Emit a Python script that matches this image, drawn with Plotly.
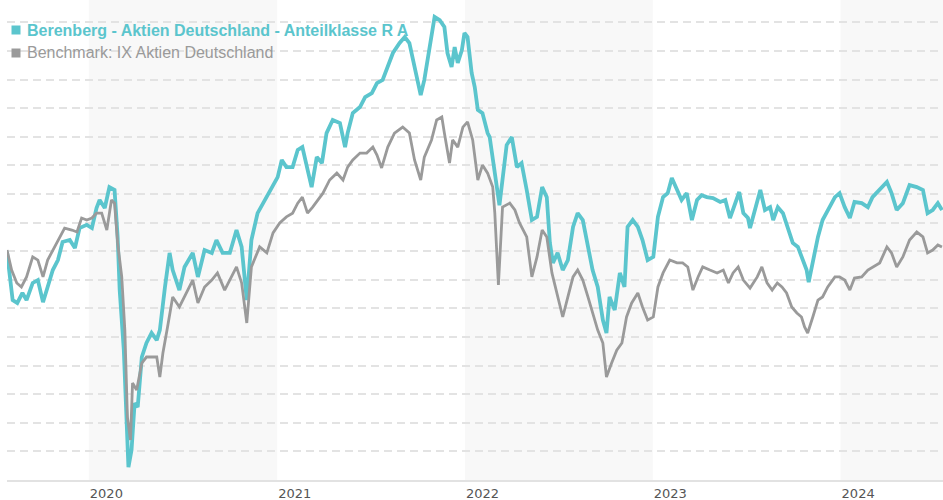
import plotly.graph_objects as go

fund_name = "Berenberg - Aktien Deutschland - Anteilklasse R A"
bench_name = "Benchmark: IX Aktien Deutschland"

fund_dates = [
    "2019-07-26", "2019-08-01", "2019-08-06", "2019-08-15", "2019-08-25", "2019-09-02", "2019-09-14",
    "2019-09-24", "2019-10-04", "2019-10-13", "2019-10-23", "2019-11-02", "2019-11-11", "2019-11-25",
    "2019-12-05", "2019-12-14", "2019-12-28", "2020-01-07", "2020-01-16", "2020-01-22", "2020-02-01",
    "2020-02-10", "2020-02-20", "2020-02-26", "2020-03-01", "2020-03-09", "2020-03-14", "2020-03-18",
    "2020-03-24", "2020-03-30", "2020-04-05", "2020-04-13", "2020-04-22", "2020-05-02", "2020-05-12",
    "2020-05-18", "2020-05-28", "2020-06-06", "2020-06-12", "2020-06-25", "2020-07-05", "2020-07-21",
    "2020-07-31", "2020-08-13", "2020-08-27", "2020-09-05", "2020-09-17", "2020-10-01", "2020-10-14",
    "2020-10-24", "2020-11-03", "2020-11-12", "2020-11-24", "2020-12-08", "2020-12-22", "2021-01-02",
    "2021-01-10", "2021-01-19", "2021-01-31", "2021-02-10", "2021-02-19", "2021-03-01", "2021-03-09",
    "2021-03-19", "2021-03-29", "2021-04-07", "2021-04-19", "2021-05-03", "2021-05-13", "2021-05-18",
    "2021-05-28", "2021-06-11", "2021-06-21", "2021-07-04", "2021-07-14", "2021-07-25", "2021-08-04",
    "2021-08-14", "2021-08-27", "2021-09-06", "2021-09-15", "2021-09-21", "2021-09-29", "2021-10-07",
    "2021-10-14", "2021-10-24", "2021-11-03", "2021-11-13", "2021-11-22", "2021-11-28", "2021-12-06",
    "2021-12-12", "2021-12-18", "2021-12-26", "2021-12-31", "2022-01-06", "2022-01-14", "2022-01-20",
    "2022-01-26", "2022-02-04", "2022-02-14", "2022-02-18", "2022-02-24", "2022-03-04", "2022-03-09",
    "2022-03-23", "2022-04-02", "2022-04-12", "2022-04-21", "2022-05-01", "2022-05-11", "2022-05-21",
    "2022-05-31", "2022-06-09", "2022-06-15", "2022-06-21", "2022-06-30", "2022-07-10", "2022-07-20",
    "2022-07-30", "2022-08-08", "2022-08-18", "2022-08-28", "2022-09-06", "2022-09-16", "2022-09-26",
    "2022-10-03", "2022-10-09", "2022-10-19", "2022-10-29", "2022-11-07", "2022-11-13", "2022-11-23",
    "2022-12-03", "2022-12-12", "2022-12-22", "2023-01-02", "2023-01-11", "2023-01-21", "2023-01-30",
    "2023-02-07", "2023-02-17", "2023-02-26", "2023-03-08", "2023-03-18", "2023-03-28", "2023-04-06",
    "2023-04-16", "2023-04-28", "2023-05-12", "2023-05-22", "2023-05-31", "2023-06-10", "2023-06-18",
    "2023-06-26", "2023-07-05", "2023-07-09", "2023-07-19", "2023-07-29", "2023-08-07", "2023-08-17",
    "2023-08-23", "2023-09-01", "2023-09-11", "2023-09-20", "2023-09-30", "2023-10-10", "2023-10-19",
    "2023-10-27", "2023-10-31", "2023-11-08", "2023-11-18", "2023-11-27", "2023-12-07", "2023-12-21",
    "2023-12-30", "2024-01-09", "2024-01-19", "2024-01-28", "2024-02-11", "2024-02-23", "2024-03-03",
    "2024-03-17", "2024-03-31", "2024-04-09", "2024-04-19", "2024-05-01", "2024-05-14", "2024-05-28",
    "2024-06-09", "2024-06-18", "2024-06-28", "2024-07-08", "2024-07-16",
]
fund_values = [
    99.7, 91.7, 82.9, 81.9, 85.4, 82.9, 88.9,
    89.9, 82.2, 87.5, 93.4, 96.9, 103.2, 103.9,
    101.1, 108.1, 109.2, 108.1, 115.1, 117.9, 115.1,
    122.4, 121.4, 105.0, 86.4, 65.4, 37.5, 24.5,
    30.5, 46.9, 45.5, 63.0, 67.9, 71.4, 68.9,
    72.4, 87.5, 99.4, 93.4, 86.4, 94.5, 99.4,
    91.0, 100.4, 99.4, 103.9, 99.4, 99.4, 107.4,
    101.5, 82.9, 103.9, 113.3, 117.9, 122.4, 125.9,
    131.9, 129.4, 129.4, 135.4, 136.4, 128.4, 122.4,
    132.9, 130.8, 141.3, 145.9, 144.8, 136.4, 141.3,
    148.3, 150.4, 153.9, 155.3, 158.8, 159.9, 164.4,
    169.3, 172.8, 174.9, 172.8, 167.9, 162.3, 154.6,
    159.9, 170.3, 181.9, 180.8, 178.4, 169.3, 164.4,
    171.4, 165.8, 170.3, 176.3, 174.9, 162.3, 157.4,
    149.4, 148.3, 141.3, 139.9, 132.9, 121.4, 116.1,
    137.1, 139.9, 129.4, 130.8, 121.4, 110.9, 112.0,
    122.4, 118.9, 102.9, 95.9, 99.4, 93.4, 96.9,
    108.5, 113.3, 110.9, 101.5, 93.4, 87.5, 75.9,
    71.4, 84.0, 79.4, 92.4, 87.5, 108.5, 110.9,
    108.5, 103.9, 96.9, 98.0, 112.0, 118.9, 120.3,
    125.6, 121.4, 117.9, 120.3, 110.9, 117.9, 119.6,
    118.9, 118.6, 117.2, 117.9, 111.6, 116.8, 120.7,
    113.3, 111.6, 108.1, 115.4, 121.4, 114.4, 115.4,
    110.9, 115.4, 113.3, 108.5, 102.9, 101.5, 96.9,
    93.4, 89.2, 96.9, 105.0, 110.9, 114.4, 118.9,
    120.3, 115.4, 111.6, 117.2, 116.8, 115.4, 118.9,
    121.4, 124.2, 120.3, 114.4, 116.8, 123.1, 122.4,
    121.4, 113.3, 114.4, 116.8, 114.4,
]

bench_dates = [
    "2019-07-26", "2019-08-04", "2019-08-14", "2019-08-23", "2019-09-02", "2019-09-14", "2019-09-24",
    "2019-10-04", "2019-10-13", "2019-10-23", "2019-11-05", "2019-11-15", "2019-11-29", "2019-12-09",
    "2019-12-18", "2019-12-28", "2020-01-07", "2020-01-16", "2020-01-26", "2020-02-05", "2020-02-14",
    "2020-02-20", "2020-02-26", "2020-03-05", "2020-03-11", "2020-03-16", "2020-03-22", "2020-03-26",
    "2020-04-03", "2020-04-13", "2020-04-22", "2020-05-02", "2020-05-12", "2020-05-18", "2020-05-24",
    "2020-06-02", "2020-06-12", "2020-06-25", "2020-07-09", "2020-07-21", "2020-07-31", "2020-08-13",
    "2020-08-27", "2020-09-07", "2020-09-21", "2020-10-01", "2020-10-14", "2020-10-24", "2020-11-03",
    "2020-11-12", "2020-11-28", "2020-12-12", "2020-12-24", "2021-01-06", "2021-01-19", "2021-01-31",
    "2021-02-10", "2021-02-19", "2021-03-01", "2021-03-11", "2021-03-21", "2021-03-31", "2021-04-13",
    "2021-04-27", "2021-05-09", "2021-05-18", "2021-05-28", "2021-06-11", "2021-06-24", "2021-07-06",
    "2021-07-14", "2021-07-23", "2021-08-04", "2021-08-17", "2021-09-02", "2021-09-15", "2021-09-25",
    "2021-10-07", "2021-10-14", "2021-10-28", "2021-11-07", "2021-11-17", "2021-11-22", "2021-12-02",
    "2021-12-08", "2021-12-18", "2021-12-28", "2022-01-06", "2022-01-16", "2022-01-26", "2022-02-04",
    "2022-02-14", "2022-02-24", "2022-02-28", "2022-03-07", "2022-03-15", "2022-03-29", "2022-04-08",
    "2022-04-17", "2022-05-01", "2022-05-11", "2022-05-21", "2022-05-31", "2022-06-09", "2022-06-19",
    "2022-06-28", "2022-07-10", "2022-07-20", "2022-07-30", "2022-08-08", "2022-08-18", "2022-08-28",
    "2022-09-06", "2022-09-16", "2022-09-26", "2022-10-03", "2022-10-13", "2022-10-23", "2022-11-02",
    "2022-11-11", "2022-11-21", "2022-12-03", "2022-12-12", "2022-12-22", "2023-01-02", "2023-01-11",
    "2023-01-21", "2023-02-03", "2023-02-17", "2023-02-28", "2023-03-10", "2023-03-20", "2023-03-30",
    "2023-04-08", "2023-04-22", "2023-05-06", "2023-05-18", "2023-05-28", "2023-06-06", "2023-06-16",
    "2023-06-26", "2023-07-09", "2023-07-23", "2023-08-01", "2023-08-11", "2023-08-21", "2023-08-31",
    "2023-09-09", "2023-09-18", "2023-09-28", "2023-10-08", "2023-10-17", "2023-10-23", "2023-10-29",
    "2023-11-08", "2023-11-18", "2023-11-27", "2023-12-07", "2023-12-21", "2023-12-30", "2024-01-09",
    "2024-01-19", "2024-01-28", "2024-02-11", "2024-02-23", "2024-03-03", "2024-03-17", "2024-03-31",
    "2024-04-09", "2024-04-19", "2024-05-01", "2024-05-14", "2024-05-28", "2024-06-09", "2024-06-18",
    "2024-06-28", "2024-07-08", "2024-07-16",
]
bench_values = [
    100.4, 93.4, 88.9, 87.5, 91.0, 98.0, 96.9,
    91.0, 96.9, 100.4, 105.0, 108.1, 107.4, 106.7,
    111.6, 110.9, 111.6, 113.3, 113.3, 107.4, 117.9,
    116.8, 102.9, 91.0, 72.4, 42.0, 34.0, 53.9,
    51.5, 60.9, 63.0, 63.0, 63.0, 56.0, 64.4,
    73.5, 84.0, 80.5, 85.4, 89.9, 81.9, 87.5,
    89.9, 92.4, 86.4, 89.9, 94.5, 88.9, 74.9,
    94.5, 101.5, 99.4, 106.4, 109.9, 112.0, 113.3,
    116.8, 118.9, 113.3, 115.4, 117.9, 120.3, 124.9,
    127.3, 124.9, 129.4, 131.9, 134.3, 134.3, 136.4,
    133.6, 129.1, 136.4, 141.3, 143.4, 141.3, 131.9,
    124.9, 132.9, 138.9, 145.9, 146.9, 141.3, 130.8,
    138.9, 136.4, 143.4, 145.2, 138.9, 124.9, 130.1,
    127.3, 122.4, 113.3, 88.2, 115.4, 116.8, 114.4,
    109.9, 105.0, 91.0, 98.0, 107.4, 105.0, 92.4,
    85.4, 77.0, 84.0, 91.0, 93.4, 89.9, 84.0,
    78.4, 72.4, 67.9, 56.0, 60.9, 65.4, 67.9,
    77.0, 81.9, 85.4, 80.5, 75.9, 77.0, 87.5,
    92.4, 96.9, 95.9, 95.9, 94.5, 86.4, 91.0,
    94.5, 93.4, 92.4, 93.4, 88.9, 92.4, 94.5,
    89.9, 87.1, 91.0, 94.5, 88.9, 86.4, 88.9,
    87.5, 85.4, 80.5, 78.4, 77.0, 73.5, 71.4,
    77.0, 82.9, 84.0, 87.5, 91.0, 91.0, 89.9,
    86.4, 90.6, 91.0, 93.4, 94.5, 95.9, 101.5,
    99.4, 94.5, 98.0, 103.9, 106.7, 105.0, 99.4,
    100.4, 102.2, 101.5,
]

shaded_years = [2020, 2022, 2024]
x_range = ["2019-07-26", "2024-07-18"]
y_range = [20, 187.83]

FUND_COLOR = "#5bc5cd"
BENCH_COLOR = "#9a9a9a"

fig = go.Figure()
fig.add_trace(go.Scatter(x=fund_dates, y=fund_values, mode="lines", name=fund_name,
                         line=dict(color=FUND_COLOR, width=3.8), showlegend=False))
fig.add_trace(go.Scatter(x=bench_dates, y=bench_values, mode="lines", name=bench_name,
                         line=dict(color=BENCH_COLOR, width=2.8), showlegend=False))

shapes = []
for yr in shaded_years:
    shapes.append(dict(type="rect", xref="x", yref="paper",
                       x0=f"{yr}-01-01", x1=f"{yr + 1}-01-01", y0=0, y1=1,
                       fillcolor="#f8f8f8", line=dict(width=0), layer="below"))
# legend squares
for i, col in enumerate([FUND_COLOR, BENCH_COLOR]):
    yc = -30 - 23 * i
    shapes.append(dict(type="rect", xref="paper", yref="paper",
                       xsizemode="pixel", ysizemode="pixel",
                       xanchor=0, yanchor=1,
                       x0=4.5, x1=13.5, y0=yc - 4.5, y1=yc + 4.5,
                       fillcolor=col, line=dict(width=0)))

annotations = [
    dict(xref="paper", yref="paper", x=0, y=1, xanchor="left", yanchor="middle",
         xshift=18, yshift=-30, showarrow=False,
         text=f"<b>{fund_name}</b>",
         font=dict(family="Liberation Sans, Arial, sans-serif", size=16, color=FUND_COLOR)),
    dict(xref="paper", yref="paper", x=0, y=1, xanchor="left", yanchor="middle",
         xshift=18, yshift=-52, showarrow=False,
         text=bench_name,
         font=dict(family="Liberation Sans, Arial, sans-serif", size=16, color=BENCH_COLOR)),
]

fig.update_layout(
    width=943, height=500,
    margin=dict(l=7, r=0, t=0, b=20),
    paper_bgcolor="white", plot_bgcolor="white",
    shapes=shapes, annotations=annotations,
    showlegend=False,
    xaxis=dict(type="date", range=x_range, showgrid=False, zeroline=False,
               tick0="2020-01-01", dtick="M12", tickformat="%Y",
               ticks="", ticklabelposition="outside right",
               tickfont=dict(family="DejaVu Sans, sans-serif", size=13, color="#555555"),
               showline=True, linecolor="#e2e2e2", linewidth=2),
    yaxis=dict(range=y_range, showticklabels=False, zeroline=False,
               tick0=0, dtick=10, showgrid=True, gridcolor="#e3e3e3",
               gridwidth=1.5, griddash="8px,5px"),
)

fig.write_html("out.html", config={"displayModeBar": False},
               post_script="document.body.style.margin='0';document.body.style.overflow='hidden';")
